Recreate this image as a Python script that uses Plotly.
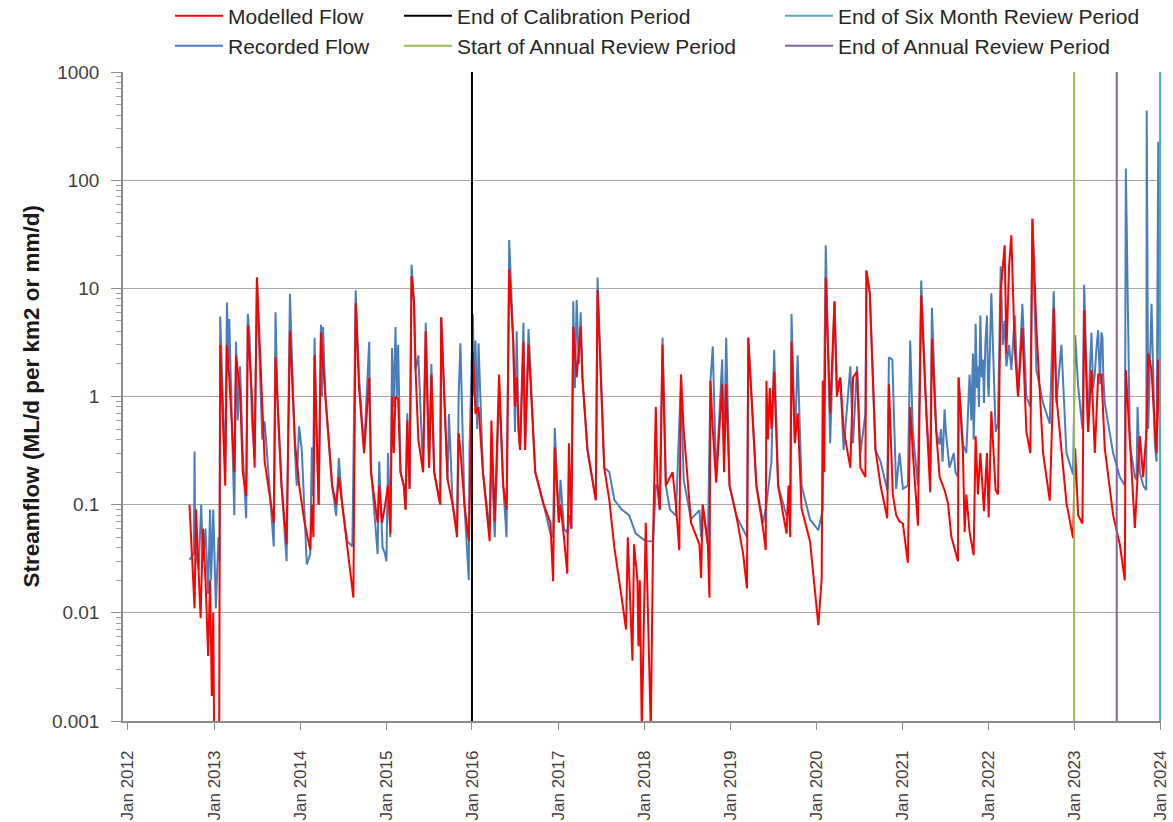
import pandas as pd
import plotly.graph_objects as go

# ---------------- data (decimal years, ML/d per km2) ----------------
recorded_years = [
    2012.714, 2012.765, 2012.773, 2012.78, 2012.82, 2012.85, 2012.87, 2012.90, 2012.93, 2012.953,
    2012.965, 2012.99, 2013.02, 2013.05, 2013.062, 2013.071, 2013.10, 2013.129, 2013.149, 2013.165,
    2013.176, 2013.21, 2013.235, 2013.255, 2013.275, 2013.302, 2013.333, 2013.373, 2013.392, 2013.412,
    2013.44, 2013.471, 2013.498, 2013.53, 2013.56, 2013.588, 2013.62, 2013.694, 2013.714, 2013.74,
    2013.784, 2013.843, 2013.882, 2013.91, 2013.941, 2013.961, 2013.988, 2014.02, 2014.05, 2014.078,
    2014.118, 2014.137, 2014.15, 2014.169, 2014.19, 2014.216, 2014.243, 2014.255, 2014.267, 2014.294,
    2014.373, 2014.42, 2014.451, 2014.49, 2014.549, 2014.608, 2014.647, 2014.686, 2014.745, 2014.804,
    2014.824, 2014.902, 2014.92, 2014.96, 2014.984, 2015.005, 2015.023, 2015.05, 2015.070, 2015.09,
    2015.110, 2015.125, 2015.141, 2015.168, 2015.207, 2015.227, 2015.247, 2015.274, 2015.297, 2015.325,
    2015.344, 2015.376, 2015.431, 2015.462, 2015.501, 2015.528, 2015.560, 2015.630, 2015.642, 2015.716,
    2015.732, 2015.775, 2015.826, 2015.845, 2015.865, 2015.912, 2015.963, 2015.971, 2016.010, 2016.025,
    2016.041, 2016.06, 2016.076, 2016.127, 2016.205, 2016.225, 2016.264, 2016.315, 2016.362, 2016.401,
    2016.432, 2016.479, 2016.499, 2016.519, 2016.54, 2016.558, 2016.597, 2016.616, 2016.656, 2016.734,
    2016.832, 2016.910, 2016.941, 2016.961, 2017.008, 2017.027, 2017.067, 2017.106, 2017.125, 2017.153,
    2017.176, 2017.195, 2017.215, 2017.24, 2017.262, 2017.282, 2017.341, 2017.438, 2017.458, 2017.536,
    2017.595, 2017.654, 2017.74, 2017.825, 2017.903, 2018.019, 2018.105, 2018.136, 2018.156, 2018.183,
    2018.214, 2018.253, 2018.30, 2018.370, 2018.429, 2018.460, 2018.546, 2018.643, 2018.663, 2018.682,
    2018.741, 2018.772, 2018.799, 2018.838, 2018.908, 2018.93, 2018.955, 2018.994, 2019.072, 2019.150,
    2019.197, 2019.212, 2019.259, 2019.306, 2019.384, 2019.423, 2019.481, 2019.513, 2019.559, 2019.657,
    2019.70, 2019.715, 2019.754, 2019.786, 2019.832, 2019.930, 2020.027, 2020.066, 2020.078, 2020.113,
    2020.164, 2020.214, 2020.242, 2020.281, 2020.320, 2020.398, 2020.429, 2020.476, 2020.515, 2020.573,
    2020.585, 2020.624, 2020.690, 2020.749, 2020.827, 2020.846, 2020.885, 2020.930, 2020.969, 2021.008,
    2021.066, 2021.093, 2021.124, 2021.183, 2021.221, 2021.280, 2021.326, 2021.346, 2021.396, 2021.435,
    2021.45, 2021.47, 2021.493, 2021.51, 2021.532, 2021.55, 2021.571, 2021.60, 2021.62, 2021.649,
    2021.656, 2021.707, 2021.746, 2021.784, 2021.804, 2021.823, 2021.831, 2021.843, 2021.854, 2021.870,
    2021.882, 2021.893, 2021.909, 2021.924, 2021.940, 2021.951, 2021.967, 2021.986, 2021.998, 2022.006,
    2022.037, 2022.087, 2022.114, 2022.146, 2022.170, 2022.192, 2022.212, 2022.243, 2022.270, 2022.309,
    2022.348, 2022.398, 2022.445, 2022.491, 2022.515, 2022.561, 2022.639, 2022.717, 2022.763, 2022.794,
    2022.852, 2022.911, 2022.988, 2023.012, 2023.047, 2023.097, 2023.117, 2023.163, 2023.18, 2023.202,
    2023.22, 2023.241, 2023.26, 2023.280, 2023.30, 2023.318, 2023.33, 2023.34, 2023.357, 2023.454,
    2023.532, 2023.590, 2023.602, 2023.649, 2023.707, 2023.726, 2023.738, 2023.765, 2023.804, 2023.840,
    2023.845, 2023.862, 2023.901, 2023.940, 2023.959, 2023.979, 2023.998,
]
recorded_flow = [
    0.031, 0.035, 0.31, 0.04, 0.025, 0.1, 0.03, 0.06, 0.015, 0.09,
    0.02, 0.09, 0.011, 0.05, 0.03, 5.5, 1.0, 0.2, 7.4, 2.0,
    5.2, 0.5, 0.08, 3.2, 0.6, 1.9, 0.3, 0.075, 5.8, 3.8,
    0.6, 0.27, 12.6, 2.0, 0.4, 0.59, 0.25, 0.041, 6.0, 0.8,
    0.15, 0.03, 8.9, 1.5, 0.3, 0.15, 0.53, 0.32, 0.08, 0.028,
    0.035, 0.34, 0.12, 3.5, 0.5, 0.1, 4.6, 1.0, 4.4, 1.0,
    0.15, 0.079, 0.27, 0.1, 0.046, 0.041, 9.6, 1.5, 0.32, 3.2,
    0.22, 0.035, 0.25, 0.04, 0.036, 0.03, 0.3, 0.05, 2.8, 0.8,
    4.4, 1.0, 3.0, 0.2, 0.15, 0.09, 0.7, 0.14, 16.5, 7.6,
    1.75, 2.4, 0.2, 4.8, 0.22, 2.0, 0.2, 0.1, 5.4, 0.17,
    0.69, 0.1, 0.06, 1.0, 3.1, 0.1, 0.02, 0.32, 5.8, 1.0,
    3.3, 0.5, 3.1, 0.2, 0.058, 0.3, 0.05, 1.2, 0.15, 0.05,
    28, 3.2, 0.47, 4.0, 0.5, 0.32, 4.8, 0.32, 4.2, 0.2,
    0.1, 0.054, 0.05, 0.51, 0.07, 0.17, 0.06, 0.055, 0.08, 0.06,
    7.6, 1.2, 7.8, 2.0, 6.0, 1.5, 0.32, 0.11, 12.6, 0.22,
    0.2, 0.11, 0.09, 0.08, 0.054, 0.046, 0.046, 0.15, 0.15, 0.089,
    3.5, 0.15, 0.09, 0.079, 1.5, 0.17, 0.073, 0.089, 0.05, 0.1,
    0.043, 1.4, 2.9, 0.17, 2.2, 0.3, 3.5, 0.15, 0.079, 0.06,
    0.05, 3.5, 0.7, 0.15, 0.068, 0.1, 0.25, 2.7, 0.15, 0.079,
    0.1, 5.8, 0.37, 2.4, 0.15, 0.073, 0.058, 0.08, 0.09, 25,
    0.37, 7.6, 1.2, 1.5, 0.32, 1.9, 0.37, 1.9, 0.3, 0.69,
    14.6, 9.0, 0.32, 0.25, 0.136, 2.3, 2.2, 0.14, 0.30, 0.14,
    0.15, 3.3, 0.47, 0.15, 11.8, 0.73, 0.2, 6.6, 0.47, 0.36,
    0.5, 0.25, 0.76, 0.45, 0.3, 0.22, 0.25, 0.3, 0.2, 0.18,
    1.5, 0.36, 0.3, 1.6, 0.6, 2.5, 0.4, 0.9, 4.7, 1.2,
    1.9, 0.8, 5.6, 1.5, 2.2, 0.87, 3.0, 5.6, 1.3, 1.0,
    9.0, 0.47, 0.56, 16, 3.0, 5.0, 1.9, 3.0, 1.76, 5.6,
    1.0, 7.2, 1.0, 0.8, 44, 1.76, 0.87, 0.56, 9.4, 0.87,
    3.0, 0.3, 0.19, 3.7, 1.24, 0.5, 10.8, 0.47, 1.5, 3.9,
    1.2, 1.6, 2.8, 4.1, 1.3, 3.9, 3.5, 1.5, 0.87, 0.30,
    0.18, 0.15, 128, 0.36, 0.18, 0.17, 0.8, 0.2, 0.15, 0.136,
    441, 0.5, 7.2, 0.36, 0.25, 227, 0.3,
]

modelled_years = [
    2012.714, 2012.773, 2012.79, 2012.824, 2012.843, 2012.87, 2012.90, 2012.93, 2012.953, 2012.973,
    2012.99, 2013.0, 2013.059, 2013.071, 2013.129, 2013.149, 2013.176, 2013.235, 2013.255, 2013.302,
    2013.333, 2013.373, 2013.392, 2013.44, 2013.471, 2013.498, 2013.55, 2013.588, 2013.694, 2013.714,
    2013.784, 2013.843, 2013.882, 2013.941, 2013.99, 2014.05, 2014.118, 2014.137, 2014.155, 2014.169,
    2014.216, 2014.243, 2014.267, 2014.294, 2014.373, 2014.42, 2014.451, 2014.49, 2014.62, 2014.647,
    2014.686, 2014.745, 2014.804, 2014.824, 2014.902, 2014.92, 2014.953, 2014.99, 2015.023, 2015.051,
    2015.070, 2015.09, 2015.110, 2015.141, 2015.168, 2015.207, 2015.227, 2015.247, 2015.274, 2015.297,
    2015.325, 2015.344, 2015.376, 2015.431, 2015.462, 2015.501, 2015.528, 2015.560, 2015.630, 2015.642,
    2015.716, 2015.775, 2015.826, 2015.845, 2015.865, 2015.912, 2015.963, 2016.010, 2016.041, 2016.076,
    2016.127, 2016.205, 2016.225, 2016.264, 2016.315, 2016.362, 2016.401, 2016.432, 2016.479, 2016.499,
    2016.519, 2016.54, 2016.558, 2016.597, 2016.616, 2016.656, 2016.734, 2016.832, 2016.910, 2016.941,
    2016.961, 2017.008, 2017.027, 2017.067, 2017.106, 2017.125, 2017.153, 2017.176, 2017.215, 2017.262,
    2017.282, 2017.341, 2017.438, 2017.458, 2017.536, 2017.595, 2017.654, 2017.75, 2017.79, 2017.81,
    2017.864, 2017.883, 2017.922, 2017.934, 2017.95, 2017.973, 2018.019, 2018.078, 2018.105, 2018.136,
    2018.156, 2018.183, 2018.214, 2018.253, 2018.331, 2018.370, 2018.409, 2018.429, 2018.460, 2018.546,
    2018.643, 2018.663, 2018.682, 2018.741, 2018.760, 2018.772, 2018.799, 2018.838, 2018.908, 2018.93,
    2018.955, 2018.994, 2019.072, 2019.150, 2019.197, 2019.212, 2019.259, 2019.306, 2019.384, 2019.415,
    2019.423, 2019.44, 2019.462, 2019.481, 2019.513, 2019.559, 2019.657, 2019.680, 2019.70, 2019.715,
    2019.754, 2019.786, 2019.832, 2019.930, 2020.027, 2020.066, 2020.078, 2020.095, 2020.113, 2020.164,
    2020.214, 2020.242, 2020.281, 2020.320, 2020.398, 2020.43, 2020.476, 2020.515, 2020.573, 2020.585,
    2020.624, 2020.690, 2020.749, 2020.827, 2020.846, 2020.891, 2020.930, 2020.969, 2021.008, 2021.066,
    2021.093, 2021.124, 2021.183, 2021.221, 2021.280, 2021.326, 2021.346, 2021.396, 2021.435, 2021.493,
    2021.532, 2021.571, 2021.649, 2021.656, 2021.707, 2021.726, 2021.746, 2021.784, 2021.831, 2021.854,
    2021.882, 2021.909, 2021.951, 2021.986, 2022.006, 2022.037, 2022.087, 2022.114, 2022.146, 2022.192,
    2022.212, 2022.243, 2022.270, 2022.309, 2022.348, 2022.398, 2022.445, 2022.491, 2022.515, 2022.561,
    2022.639, 2022.717, 2022.748, 2022.763, 2022.794, 2022.852, 2022.911, 2022.988, 2023.012, 2023.047,
    2023.097, 2023.117, 2023.163, 2023.202, 2023.241, 2023.280, 2023.318, 2023.357, 2023.454, 2023.532,
    2023.590, 2023.602, 2023.649, 2023.707, 2023.738, 2023.765, 2023.804, 2023.843, 2023.862, 2023.901,
    2023.940, 2023.959, 2023.979, 2023.998,
]
modelled_flow = [
    0.1, 0.011, 0.09, 0.02, 0.0089, 0.06, 0.02, 0.004, 0.02, 0.0017,
    0.01, 0.0008, 0.0008, 3.0, 0.15, 3.0, 1.5, 0.2, 2.4, 1.1,
    0.2, 0.12, 4.5, 1.0, 0.22, 12.6, 1.2, 0.25, 0.068, 2.3,
    0.15, 0.043, 4.0, 0.37, 0.15, 0.07, 0.038, 0.1, 0.05, 2.4,
    0.1, 3.9, 2.0, 1.0, 0.15, 0.1, 0.18, 0.1, 0.0138, 7.3,
    1.2, 0.3, 1.5, 0.2, 0.068, 0.15, 0.068, 0.1, 0.15, 0.054,
    1.0, 0.3, 1.0, 0.94, 0.2, 0.15, 0.09, 0.6, 0.14, 13,
    7.6, 1.75, 0.4, 0.2, 4.0, 0.22, 1.6, 0.2, 0.1, 5.4,
    0.17, 0.1, 0.05, 0.46, 0.32, 0.1, 0.046, 2.6, 0.69, 0.8,
    0.2, 0.046, 0.6, 0.07, 1.6, 0.15, 0.09, 15, 3.2, 0.8,
    1.5, 0.5, 0.32, 3.2, 0.32, 3.0, 0.2, 0.1, 0.068, 0.0196,
    0.34, 0.068, 0.1, 0.05, 0.023, 0.37, 0.06, 4.4, 1.5, 4.4,
    1.5, 0.32, 0.11, 9.6, 0.22, 0.11, 0.04, 0.012, 0.007, 0.05,
    0.0036, 0.043, 0.02, 0.0049, 0.02, 0.0008, 0.068, 0.0008, 0.054, 0.8,
    0.15, 0.09, 3.0, 0.15, 0.2, 0.1, 0.038, 1.6, 0.5, 0.068,
    0.043, 0.021, 0.1, 0.043, 0.0138, 1.4, 0.5, 0.16, 1.3, 0.2,
    1.3, 0.15, 0.08, 0.036, 0.0168, 3.5, 0.7, 0.15, 0.06, 0.038,
    1.4, 0.4, 1.2, 0.5, 1.7, 0.15, 0.054, 0.15, 0.05, 3.2,
    0.37, 0.7, 0.092, 0.046, 0.0077, 0.021, 1.4, 0.2, 12.6, 0.7,
    7.6, 1.0, 1.5, 0.5, 0.22, 1.5, 1.7, 0.22, 0.18, 14.6,
    9.0, 0.32, 0.15, 0.075, 1.3, 0.124, 0.08, 0.07, 0.067, 0.029,
    0.8, 0.3, 0.064, 8.6, 0.73, 0.13, 3.4, 0.47, 0.18, 0.136,
    0.104, 0.051, 0.030, 1.5, 0.3, 0.056, 0.124, 0.056, 0.034, 0.43,
    0.124, 0.3, 0.087, 0.3, 0.076, 0.73, 0.136, 0.124, 9.4, 25,
    2.5, 16, 31, 2.8, 1.0, 4.3, 0.47, 0.30, 44, 4.3,
    0.3, 0.109, 0.73, 6.6, 1.0, 0.3, 0.104, 0.049, 0.33, 0.08,
    0.067, 6.3, 0.47, 1.76, 0.3, 1.6, 1.6, 0.33, 0.08, 0.043,
    0.020, 1.76, 0.36, 0.061, 0.18, 0.43, 0.18, 0.5, 2.5, 1.76,
    0.47, 0.3, 2.2, 0.5,
]

period_names = ["End of Calibration Period", "Start of Annual Review Period",
                "End of Six Month Review Period", "End of Annual Review Period"]
period_dates = ["2016-01-01", "2023-01-01", "2024-01-01", "2023-07-01"]
period_colors = ["#000000", "#9BBB59", "#4BACC6", "#8064A2"]

tick_years = list(range(2012, 2025))
y_tick_values = [0.001, 0.01, 0.1, 1, 10, 100, 1000]
y_tick_labels = ["0.001", "0.01", "0.1", "1", "10", "100", "1000"]
y_title = "Streamflow (ML/d per km2 or mm/d)"


def to_dates(years):
    out = []
    for y in years:
        yr = int(y)
        start = pd.Timestamp(year=yr, month=1, day=1)
        ndays = 366 if yr % 4 == 0 else 365
        ts = start + pd.Timedelta(hours=round((y - yr) * ndays * 24))
        out.append(ts.strftime("%Y-%m-%d %H:00"))
    return out


FONT = "Liberation Sans, Arial, sans-serif"
W, H = 1173, 822
fig = go.Figure()

fig.add_trace(go.Scatter(x=to_dates(recorded_years), y=recorded_flow, mode="lines",
                         name="Recorded Flow", line=dict(color="#4A7EBB", width=2),
                         legend="legend2"))
fig.add_trace(go.Scatter(x=to_dates(modelled_years), y=modelled_flow, mode="lines",
                         name="Modelled Flow", line=dict(color="#FF0000", width=2),
                         legend="legend"))

legend_ids = ["legend3", "legend4", "legend5", "legend6"]
for name, d, c, lg in zip(period_names, period_dates, period_colors, legend_ids):
    fig.add_trace(go.Scatter(x=[d, d], y=[0.001, 1000], mode="lines", name=name,
                             line=dict(color=c, width=2), legend=lg))

# legend positions (container px)
leg_pos = {
    "legend": (170, 16), "legend2": (170, 46),
    "legend3": (399, 16), "legend4": (399, 46),
    "legend5": (780, 16), "legend6": (780, 46),
}
legend_layout = {}
for k, (px, py) in leg_pos.items():
    legend_layout[k] = dict(x=px / W, y=1 - py / H, xref="container", yref="container",
                            xanchor="left", yanchor="middle", bgcolor="rgba(0,0,0,0)",
                            font=dict(family=FONT, size=21, color="#262626"),
                            itemwidth=48)

fig.update_layout(
    width=W, height=H,
    margin=dict(l=123, r=12, t=72, b=101, autoexpand=False),
    plot_bgcolor="white", paper_bgcolor="white",
    showlegend=True,
    **legend_layout,
)

fig.add_annotation(text=f"<b>{y_title}</b>", textangle=-90,
                   xref="paper", yref="paper", x=-0.0886, y=0.5,
                   xanchor="center", yanchor="middle", showarrow=False,
                   font=dict(family=FONT, size=22.5, color="#1A1A1A"))

fig.update_xaxes(
    type="date",
    range=["2011-12-11", "2024-01-05"],
    tickvals=[f"{y}-01-01" for y in tick_years],
    ticktext=[f"Jan {y}" for y in tick_years],
    tickangle=-90,
    ticks="outside", ticklen=7, tickcolor="#8C8C8C",
    showline=True, linecolor="#8C8C8C", linewidth=1.5,
    showgrid=False, zeroline=False,
    tickfont=dict(family=FONT, size=17, color="#404040"),
    ticklabelstandoff=14,
)

minor_vals = [m * 10 ** e for e in range(-3, 3) for m in range(2, 10)]
fig.update_yaxes(
    type="log", range=[-3, 3],
    tickvals=y_tick_values, ticktext=y_tick_labels,
    ticks="outside", ticklen=10, tickcolor="#8C8C8C",
    minor=dict(tickvals=minor_vals, ticks="outside", ticklen=5, tickcolor="#A0A0A0", showgrid=False),
    showline=True, linecolor="#8C8C8C", linewidth=1.5,
    showgrid=True, gridcolor="#A6A6A6", gridwidth=1.2,
    zeroline=False,
    tickfont=dict(family=FONT, size=19, color="#404040"),
    ticklabelstandoff=8,
)

fig.write_html("out.html", config={"displayModeBar": False},
               post_script="document.body.style.margin='0px';")
